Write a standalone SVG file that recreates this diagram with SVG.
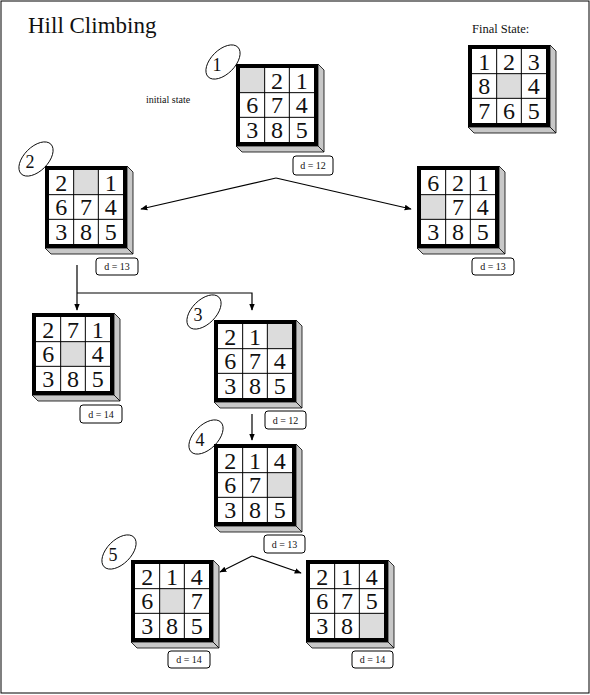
<svg xmlns="http://www.w3.org/2000/svg" xmlns:xlink="http://www.w3.org/1999/xlink" width="590" height="695" viewBox="0 0 590 695">
<style>
text{font-family:"Liberation Serif","DejaVu Serif",serif;fill:#111}
.n{font-size:24px;text-anchor:middle}
.d{font-size:10px;text-anchor:middle}
.e{fill:none;stroke:#000;stroke-width:0.9}
.en{font-size:18px;text-anchor:middle}
.c{stroke:#000;stroke-width:1.2;fill:none}
.db{fill:#fff;stroke:#000;stroke-width:1}
.g{fill:#dcdcdc}
</style>
<defs>
<marker id="ah" viewBox="0 0 10 10" refX="9" refY="5" markerWidth="7" markerHeight="7" orient="auto" markerUnits="userSpaceOnUse">
<path d="M0,1 L10,5 L0,9 z" fill="#000"/>
</marker>
<g id="board">
<polygon points="82,0 88,6 88,88 82,82" fill="#c8c8c8" stroke="#000" stroke-width="0.8"/>
<polygon points="0,82 82,82 88,88 6,88" fill="#c8c8c8" stroke="#000" stroke-width="0.8"/>
<rect x="2" y="2" width="78" height="78" fill="#fff" stroke="#000" stroke-width="4"/>
</g>
<g id="grid">
<path d="M28.67,4V78M53.33,4V78M4,28.67H78M4,53.33H78" stroke="#000" stroke-width="1"/>
</g>
</defs>
<rect x="1" y="1" width="588" height="692" fill="#fff" stroke="#000" stroke-width="1"/>
<text x="28" y="33" font-size="23">Hill Climbing</text>
<text x="146" y="103" font-size="10">initial state</text>
<text x="472" y="33" font-size="12.5">Final State:</text>

<g id="connectors">
<path class="c" d="M276,178 L141,209" marker-end="url(#ah)"/>
<path class="c" d="M276,178 L411,209" marker-end="url(#ah)"/>
<path class="c" d="M77,265 V310" marker-end="url(#ah)"/>
<path class="c" d="M77,293 H252 V310" marker-end="url(#ah)"/>
<path class="c" d="M252,414 V440" marker-end="url(#ah)"/>
<path class="c" d="M252,556 L220,572" marker-end="url(#ah)"/>
<path class="c" d="M252,556 L301,573" marker-end="url(#ah)"/>
</g>

<g id="board1" transform="translate(236,64)">
<use xlink:href="#board"/>
<rect class="g" x="4" y="4" width="24.67" height="24.67"/>
<use xlink:href="#grid"/>
<text class="n" x="41" y="24.5">2</text><text class="n" x="65.7" y="24.5">1</text>
<text class="n" x="16.3" y="49">6</text><text class="n" x="41" y="49">7</text><text class="n" x="65.7" y="49">4</text>
<text class="n" x="16.3" y="74">3</text><text class="n" x="41" y="74">8</text><text class="n" x="65.7" y="74">5</text>
</g>
<g id="label1"><ellipse class="e" cx="223" cy="62" rx="21" ry="12" transform="rotate(-45 223 62)"/><text class="en" x="217" y="71">1</text></g>
<g id="d1"><rect class="db" x="293" y="156" width="40" height="19" rx="3"/><text class="d" x="313" y="169">d = 12</text></g>

<g id="final" transform="translate(468,45)">
<use xlink:href="#board"/>
<rect class="g" x="28.67" y="28.67" width="24.67" height="24.67"/>
<use xlink:href="#grid"/>
<text class="n" x="16.3" y="24.5">1</text><text class="n" x="41" y="24.5">2</text><text class="n" x="65.7" y="24.5">3</text>
<text class="n" x="16.3" y="49">8</text><text class="n" x="65.7" y="49">4</text>
<text class="n" x="16.3" y="74">7</text><text class="n" x="41" y="74">6</text><text class="n" x="65.7" y="74">5</text>
</g>

<g id="board2" transform="translate(45,166)">
<use xlink:href="#board"/>
<rect class="g" x="28.67" y="4" width="24.67" height="24.67"/>
<use xlink:href="#grid"/>
<text class="n" x="16.3" y="24.5">2</text><text class="n" x="65.7" y="24.5">1</text>
<text class="n" x="16.3" y="49">6</text><text class="n" x="41" y="49">7</text><text class="n" x="65.7" y="49">4</text>
<text class="n" x="16.3" y="74">3</text><text class="n" x="41" y="74">8</text><text class="n" x="65.7" y="74">5</text>
</g>
<g id="label2"><ellipse class="e" cx="36" cy="159" rx="21" ry="12" transform="rotate(-45 36 159)"/><text class="en" x="30" y="168">2</text></g>
<g id="d2"><rect class="db" x="96" y="258" width="42" height="17" rx="3"/><text class="d" x="117" y="270">d = 13</text></g>

<g id="board3" transform="translate(417,166)">
<use xlink:href="#board"/>
<rect class="g" x="4" y="28.67" width="24.67" height="24.67"/>
<use xlink:href="#grid"/>
<text class="n" x="16.3" y="24.5">6</text><text class="n" x="41" y="24.5">2</text><text class="n" x="65.7" y="24.5">1</text>
<text class="n" x="41" y="49">7</text><text class="n" x="65.7" y="49">4</text>
<text class="n" x="16.3" y="74">3</text><text class="n" x="41" y="74">8</text><text class="n" x="65.7" y="74">5</text>
</g>
<g id="d3"><rect class="db" x="472" y="258" width="42" height="17" rx="3"/><text class="d" x="493" y="270">d = 13</text></g>

<g id="board4" transform="translate(32,313)">
<use xlink:href="#board"/>
<rect class="g" x="28.67" y="28.67" width="24.67" height="24.67"/>
<use xlink:href="#grid"/>
<text class="n" x="16.3" y="24.5">2</text><text class="n" x="41" y="24.5">7</text><text class="n" x="65.7" y="24.5">1</text>
<text class="n" x="16.3" y="49">6</text><text class="n" x="65.7" y="49">4</text>
<text class="n" x="16.3" y="74">3</text><text class="n" x="41" y="74">8</text><text class="n" x="65.7" y="74">5</text>
</g>
<g id="d4"><rect class="db" x="80" y="405" width="42" height="18" rx="3"/><text class="d" x="101" y="418">d = 14</text></g>

<g id="board5" transform="translate(214,320)">
<use xlink:href="#board"/>
<rect class="g" x="53.33" y="4" width="24.67" height="24.67"/>
<use xlink:href="#grid"/>
<text class="n" x="16.3" y="24.5">2</text><text class="n" x="41" y="24.5">1</text>
<text class="n" x="16.3" y="49">6</text><text class="n" x="41" y="49">7</text><text class="n" x="65.7" y="49">4</text>
<text class="n" x="16.3" y="74">3</text><text class="n" x="41" y="74">8</text><text class="n" x="65.7" y="74">5</text>
</g>
<g id="label3"><ellipse class="e" cx="204" cy="312" rx="21" ry="12" transform="rotate(-45 204 312)"/><text class="en" x="198" y="321">3</text></g>
<g id="d5"><rect class="db" x="265" y="411" width="41" height="18" rx="3"/><text class="d" x="285.5" y="424">d = 12</text></g>

<g id="board6" transform="translate(214,444)">
<use xlink:href="#board"/>
<rect class="g" x="53.33" y="28.67" width="24.67" height="24.67"/>
<use xlink:href="#grid"/>
<text class="n" x="16.3" y="24.5">2</text><text class="n" x="41" y="24.5">1</text><text class="n" x="65.7" y="24.5">4</text>
<text class="n" x="16.3" y="49">6</text><text class="n" x="41" y="49">7</text>
<text class="n" x="16.3" y="74">3</text><text class="n" x="41" y="74">8</text><text class="n" x="65.7" y="74">5</text>
</g>
<g id="label4"><ellipse class="e" cx="206" cy="437" rx="21" ry="12" transform="rotate(-45 206 437)"/><text class="en" x="200" y="446">4</text></g>
<g id="d6"><rect class="db" x="264" y="535" width="41" height="18" rx="3"/><text class="d" x="284.5" y="548">d = 13</text></g>

<g id="board7" transform="translate(131,560)">
<use xlink:href="#board"/>
<rect class="g" x="28.67" y="28.67" width="24.67" height="24.67"/>
<use xlink:href="#grid"/>
<text class="n" x="16.3" y="24.5">2</text><text class="n" x="41" y="24.5">1</text><text class="n" x="65.7" y="24.5">4</text>
<text class="n" x="16.3" y="49">6</text><text class="n" x="65.7" y="49">7</text>
<text class="n" x="16.3" y="74">3</text><text class="n" x="41" y="74">8</text><text class="n" x="65.7" y="74">5</text>
</g>
<g id="label5"><ellipse class="e" cx="119" cy="552" rx="21" ry="12" transform="rotate(-45 119 552)"/><text class="en" x="113" y="561">5</text></g>
<g id="d7"><rect class="db" x="168" y="651" width="42" height="17" rx="3"/><text class="d" x="189" y="663">d = 14</text></g>

<g id="board8" transform="translate(306,560)">
<use xlink:href="#board"/>
<rect class="g" x="53.33" y="53.33" width="24.67" height="24.67"/>
<use xlink:href="#grid"/>
<text class="n" x="16.3" y="24.5">2</text><text class="n" x="41" y="24.5">1</text><text class="n" x="65.7" y="24.5">4</text>
<text class="n" x="16.3" y="49">6</text><text class="n" x="41" y="49">7</text><text class="n" x="65.7" y="49">5</text>
<text class="n" x="16.3" y="74">3</text><text class="n" x="41" y="74">8</text>
</g>
<g id="d8"><rect class="db" x="352" y="651" width="41" height="17" rx="3"/><text class="d" x="372.5" y="663">d = 14</text></g>
</svg>
